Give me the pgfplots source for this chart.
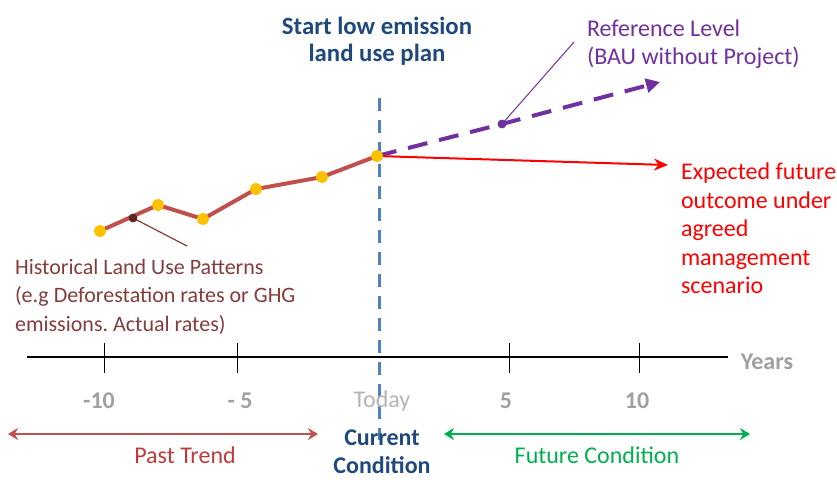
\documentclass[border=0pt]{standalone}
\usepackage{pgfplots}
\pgfplotsset{compat=1.18}
\usetikzlibrary{arrows.meta}
\usepackage{fontspec}
\setmainfont{Carlito}
\frenchspacing
\definecolor{histline}{HTML}{C0504D}
\definecolor{marker}{HTML}{FFC000}
\definecolor{darkdot}{HTML}{632523}
\definecolor{purp}{HTML}{7030A0}
\definecolor{titleblue}{HTML}{1F497D}
\definecolor{dashblue}{HTML}{4F81BD}
\definecolor{tickgray}{HTML}{A0A0A0}
\definecolor{todaygray}{HTML}{B4B4B4}
\definecolor{greenc}{HTML}{00B050}
\definecolor{pastred}{HTML}{C0393B}
\definecolor{histtext}{HTML}{843C3C}
\tikzset{
  txt/.style={font=\fontsize{12}{14.2}\selectfont},
  btxt/.style={font=\fontsize{12}{14}\selectfont\bfseries},
}
\begin{document}
\begin{tikzpicture}
\begin{axis}[
  width=418.5pt, height=239.5pt, scale only axis,
  xmin=0, xmax=837, ymin=0, ymax=479, y dir=reverse,
  axis lines=none, clip=false,
]
\coordinate (bl) at (axis cs:0,479);
\coordinate (tr) at (axis cs:837,0);
% time axis
\draw[black, line width=1pt] (axis cs:27,357) -- (axis cs:728,357);
\draw[black, line width=0.5pt] (axis cs:104,343) -- (axis cs:104,373);
\draw[black, line width=0.5pt] (axis cs:237,343) -- (axis cs:237,373);
\draw[black, line width=0.5pt] (axis cs:509,343) -- (axis cs:509,373);
\draw[black, line width=0.5pt] (axis cs:639,343) -- (axis cs:639,373);
% blue dashed vertical
\addplot[dashblue, line width=1.5pt, dash pattern=on 6.5pt off 4.5pt] coordinates {(379,98) (379,440)};
% reference level (BAU)
\addplot[purp, line width=2pt, dash pattern=on 10pt off 6pt, -{Triangle[length=7pt,width=7pt]}] coordinates {(377,156) (502,124) (660,82)};
% expected future outcome
\addplot[red, line width=1pt, -{Stealth[length=7pt,width=6pt]}] coordinates {(377,156) (668,165)};
% historical
\addplot[histline, line width=2pt, mark=*, mark size=2pt, mark options={draw=marker, fill=marker}] coordinates {(100,231) (158,205) (203,219) (256,189) (322,177) (377,156)};
% annotation dots & leaders
\addplot[darkdot, only marks, mark=*, mark size=2pt] coordinates {(133,218)};
\addplot[purp, only marks, mark=*, mark size=2pt] coordinates {(502,124)};
\draw[histtext, line width=0.6pt] (axis cs:133,218) -- (axis cs:187,246);
\draw[purp, line width=0.5pt] (axis cs:502,124) -- (axis cs:574,42);
% texts
\node[titleblue, font=\fontsize{12.4}{13.5}\selectfont\bfseries, align=center] at (axis cs:377,41) {Start low emission\\land use plan};
\node[purp, txt, align=left, anchor=west] at (axis cs:580,44) {Reference Level\\(BAU without Project)};
\node[red, txt, align=left, anchor=west] at (axis cs:674,228.5) {Expected future\\outcome under\\agreed\\management\\scenario};
\node[histtext, font=\fontsize{11}{14.25}\selectfont, align=left, anchor=west] at (axis cs:8,296.5) {Historical Land Use Patterns\\(e.g Deforestation rates or GHG\\emissions. Actual rates)};
% tick labels
\node[tickgray, btxt] at (axis cs:99,401) {-10};
\node[tickgray, btxt] at (axis cs:240,401) {- 5};
\node[todaygray, txt] at (axis cs:382,401) {Today};
\node[tickgray, btxt] at (axis cs:506,401) {5};
\node[tickgray, btxt] at (axis cs:637,401) {10};
\node[tickgray, btxt] at (axis cs:767,362) {Years};
% bottom arrows
\draw[histline, line width=1pt, {Stealth[length=5pt,width=6pt]}-{Stealth[length=5pt,width=6pt]}] (axis cs:8,434) -- (axis cs:318,434);
\draw[greenc, line width=1pt, {Stealth[length=5pt,width=6pt]}-{Stealth[length=5pt,width=6pt]}] (axis cs:444,434) -- (axis cs:750,434);
\node[pastred, txt] at (axis cs:185,455) {Past Trend};
\node[greenc, txt] at (axis cs:597,455) {Future Condition};
\node[titleblue, btxt, align=center, inner sep=0pt] at (axis cs:382,452) {Current\\Condition};
\end{axis}
\pgfresetboundingbox
\useasboundingbox (bl) rectangle (tr);
\end{tikzpicture}
\end{document}
